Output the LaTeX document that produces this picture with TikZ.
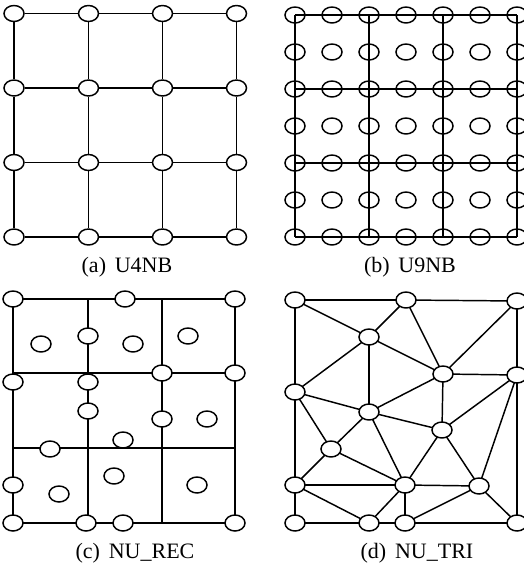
\documentclass[tikz,border=0pt]{standalone}
\usepackage{fontspec}
\setmainfont{Liberation Serif}
\usetikzlibrary{shapes.geometric,backgrounds}
\begin{document}
\begin{tikzpicture}[x=0.75pt,y=-0.75pt,
  vtx/.style={ellipse,draw,line width=1.1pt,fill=white,minimum width=15pt,minimum height=12pt,inner sep=0pt},
  hollow/.style={ellipse,draw,line width=1.1pt,minimum width=15pt,minimum height=12pt,inner sep=0pt},
  edge/.style={line width=1.1pt},
  captext/.style={font=\fontsize{16.5}{18}\selectfont,inner sep=0pt}]
\useasboundingbox (0,0) rectangle (524,572);
\clip (0,0) rectangle (524,572);

% ---------------- (a) U4NB ----------------
\foreach \i/\x in {0/14,1/88.5,2/162.5,3/236.5}
  \foreach \j/\y in {0/13.5,1/88,2/162.5,3/237}
    \node[vtx] (a\i\j) at (\x,\y) {};
\foreach \i in {0,...,3}
  \foreach \j/\k in {0/1,1/2,2/3} {
    \draw[edge] (a\i\j) -- (a\i\k);
    \draw[edge] (a\j\i) -- (a\k\i);
  }
\node[captext] (la) at (127,267) {(a)\hspace{0.4em}U4NB};

% ---------------- (b) U9NB ----------------
\foreach \i in {0,...,6}
  \foreach \j in {0,...,6}
    \node[hollow] (b\i\j) at ({295+37*\i},{15+37*\j}) {};
\foreach \k in {0,2,4,6} {
  \draw[edge] (b\k0.center) -- (b\k6.center);
  \draw[edge] (b0\k.center) -- (b6\k.center);
}
\node[captext] (lb) at (410,267) {(b)\hspace{0.4em}U9NB};

% ---------------- (c) NU_REC ----------------
\coordinate (cTL) at (13,299);
\coordinate (cTR) at (235,299);
\coordinate (cBL) at (13,523);
\coordinate (cBR) at (235,523);
\coordinate (cV1t) at (88,299);
\coordinate (cV1b) at (88,523);
\coordinate (cV2t) at (162,299);
\coordinate (cV2b) at (162,523);
\coordinate (cH1l) at (13,373);
\coordinate (cH1r) at (235,373);
\coordinate (cH2l) at (13,448);
\coordinate (cH2r) at (235,448);
\foreach \n/\x/\y in {1/13/299,2/125/299,3/235/299,4/88/336,5/41/344,6/133/344,
    7/188/336,8/13/382,9/88/382,10/162/373,11/235/373,12/88/411,13/162/419,
    14/207/419,15/123/440,16/50/449,17/13/485,18/59/494,19/114/476,20/197/485,
    21/13/523,22/86/523,23/123/523,24/235/523}
  \node[vtx] (c\n) at (\x,\y) {};
\begin{scope}[on background layer]
  \draw[edge] (cTL) rectangle (cBR);
  \draw[edge] (cV1t) -- (cV1b);
  \draw[edge] (cV2t) -- (cV2b);
  \draw[edge] (cH1l) -- (cH1r);
  \draw[edge] (cH2l) -- (cH2r);
\end{scope}
\node[captext] (lc) at (135,553) {(c)\hspace{0.4em}NU\_REC};

% ---------------- (d) NU_TRI ----------------
\foreach \n/\x/\y in {A/295/300,B/406/300,C/517/301,D/369/337,E/443/374,F/517/375,
    G/295/392,H/369/412,I/442/430,J/331/449,K/295/485,L/405/485,M/479/486,
    N/295/523,O/369/523,P/405/523,Q/517/523}
  \node[vtx] (d\n) at (\x,\y) {};
\begin{scope}[on background layer]
  \foreach \u/\v in {A/B,B/C,A/G,G/K,K/N,C/F,F/Q,N/O,O/P,P/Q,A/D,B/D,B/E,C/E,
      D/E,D/G,D/H,E/F,E/H,E/I,G/H,G/J,H/J,H/L,H/I,I/F,I/L,I/M,F/M,J/K,J/L,
      K/L,L/M,K/O,L/O,L/P,M/P,M/Q}
    \draw[edge] (d\u.center) -- (d\v.center);
\end{scope}
\node[captext] (ld) at (417,553) {(d)\hspace{0.4em}NU\_TRI};
\end{tikzpicture}
\end{document}
